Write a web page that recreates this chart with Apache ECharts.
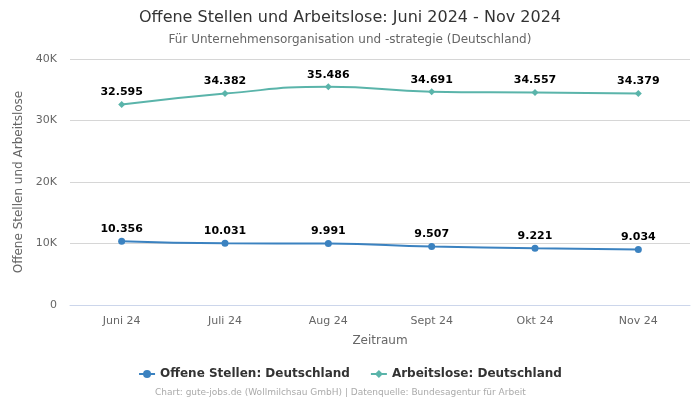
<!DOCTYPE html>
<html><head><meta charset="utf-8">
<script src="https://cdn.jsdelivr.net/npm/echarts@6/dist/echarts.min.js"></script>
<style>html,body{margin:0;padding:0;background:#fff}#c{width:700px;height:400px}</style>
</head><body><div id="c"></div>
<script>
const categories = ['Juni 24','Juli 24','Aug 24','Sept 24','Okt 24','Nov 24'];
const offeneStellen = [10356, 10031, 9991, 9507, 9221, 9034];
const arbeitslose = [32595, 34382, 35486, 34691, 34557, 34379];
const yTicks = [0, 10000, 20000, 30000, 40000];

const fmt = v => String(v).replace(/\B(?=(\d{3})+(?!\d))/g, '.');
const font = 'DejaVu Sans';
const chart = echarts.init(document.getElementById('c'), null, {renderer:'canvas'});
chart.setOption({
  animation:false,
  textStyle:{fontFamily:font},
  title:[
    {text:'Offene Stellen und Arbeitslose: Juni 2024 - Nov 2024', left:'center', top:5,
     textStyle:{fontFamily:font,fontSize:16,fontWeight:'normal',color:'#333'}},
    {text:'Für Unternehmensorganisation und -strategie (Deutschland)', left:'center', top:29,
     textStyle:{fontFamily:font,fontSize:12,fontWeight:'normal',color:'#666'}},
    {text:'Chart: gute-jobs.de (Wollmilchsau GmbH) | Datenquelle: Bundesagentur für Arbeit', left:150, top:383,
     textStyle:{fontFamily:font,fontSize:9,fontWeight:'normal',color:'#aaa'}}
  ],
  legend:{
    bottom:15, left:'center', itemGap:20, itemWidth:16, itemHeight:10,
    textStyle:{fontFamily:font,fontSize:12,fontWeight:'bold',color:'#333'},
    data:['Offene Stellen: Deutschland','Arbeitslose: Deutschland']
  },
  grid:{left:70,right:10,top:59,bottom:95},
  xAxis:{
    type:'category', data:categories, boundaryGap:true,
    name:'Zeitraum', nameLocation:'middle', nameGap:30,
    nameTextStyle:{fontFamily:font,fontSize:12,color:'#666'},
    axisLine:{lineStyle:{color:'#ccd6eb'}}, axisTick:{show:false},
    axisLabel:{fontFamily:font,fontSize:11,color:'#666',margin:11}
  },
  yAxis:{
    type:'value', min:yTicks[0], max:yTicks[yTicks.length-1], interval:10000,
    name:'Offene Stellen und Arbeitslose', nameLocation:'middle', nameGap:35,
    nameTextStyle:{fontFamily:font,fontSize:12,color:'#666'},
    axisLine:{show:false}, axisTick:{show:false},
    splitLine:{lineStyle:{color:'#d6d6d6'}},
    axisLabel:{fontFamily:font,fontSize:11,color:'#666',margin:13,
      formatter:v=> v===0?'0':(v/1000)+'K'}
  },
  series:[
    {name:'Offene Stellen: Deutschland', type:'line', smooth:true, data:offeneStellen,
     color:'#3b82c0', symbol:'circle', symbolSize:7, lineStyle:{width:2},
     label:{show:true,position:'top',distance:3,formatter:p=>fmt(p.value),
       fontFamily:font,fontSize:11,fontWeight:'bold',color:'#000'}},
    {name:'Arbeitslose: Deutschland', type:'line', smooth:true, data:arbeitslose,
     color:'#5ab4aa', symbol:'diamond', symbolSize:7, lineStyle:{width:2},
     label:{show:true,position:'top',distance:3,formatter:p=>fmt(p.value),
       fontFamily:font,fontSize:11,fontWeight:'bold',color:'#000'}}
  ]
});
</script></body></html>
